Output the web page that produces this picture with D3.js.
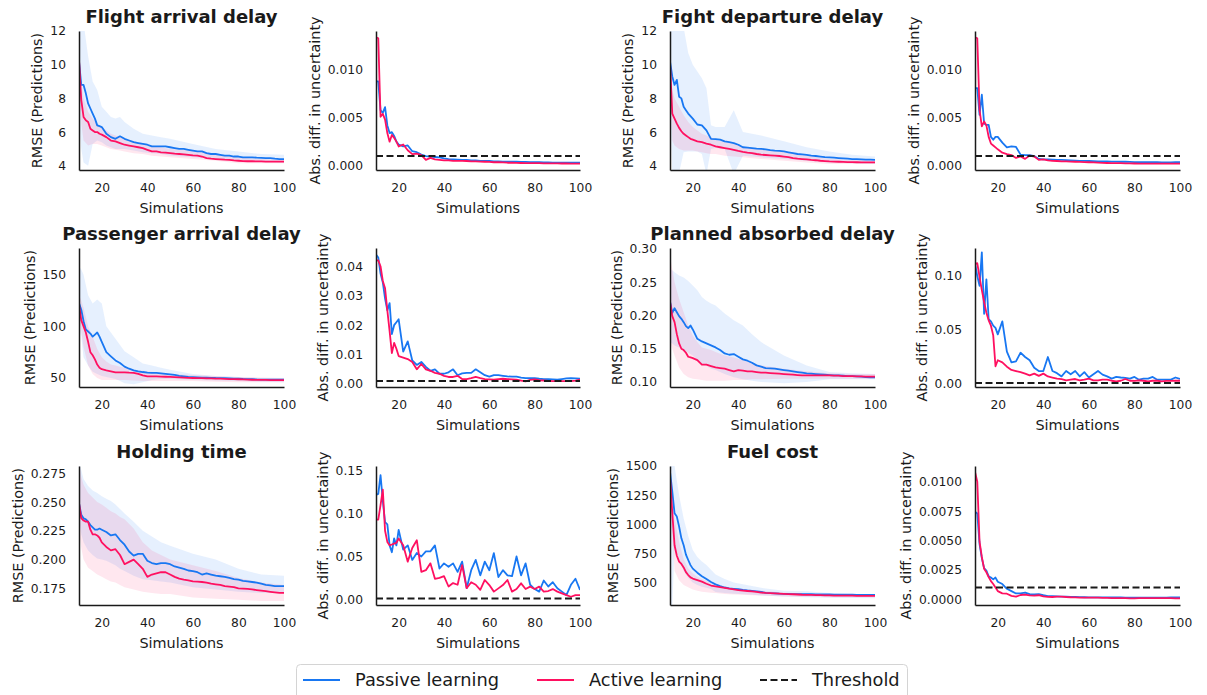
<!DOCTYPE html>
<html>
<head>
<meta charset="utf-8">
<script src="https://cdn.jsdelivr.net/npm/d3@7"></script>
<style>
  body { margin: 0; background: #fff; }
  text { font-family: "DejaVu Sans", sans-serif; fill: #1a1a1a; }
</style>
</head>
<body>
<svg id="chart" width="1207" height="695"></svg>
<script>
// ---------- data ----------
const sims = [10, 11, 12, 13, 14, 15, 16, 17, 18, 19, 20,
  22, 24, 26, 28, 30, 32, 34, 36, 38, 40, 42, 44, 46, 48, 50,
  52, 54, 56, 58, 60, 62, 64, 66, 68, 70, 72, 74, 76, 78, 80,
  82, 84, 86, 88, 90, 92, 94, 96, 98, 100];
const bandSims = [10, 11, 12, 14, 16, 18, 20, 22, 24, 26, 28, 30, 34, 38, 42, 46, 50, 60, 70, 80, 90, 100];
const xTicks = [20, 40, 60, 80, 100];
const threshold = 0.001;

// Flight arrival delay
const arrRmsePassive = [10.2, 8.8, 8.8, 8.3, 7.7, 7.4, 7.1, 6.8, 6.4, 6.35, 6.3,
  5.9, 5.7, 5.6, 5.75, 5.6, 5.5, 5.4, 5.35, 5.3, 5.25, 5.15, 5.15, 5.15, 5.15, 5.1,
  5.05, 5.0, 5.0, 4.95, 4.9, 4.85, 4.85, 4.75, 4.7, 4.7, 4.65, 4.6, 4.6, 4.55, 4.55,
  4.5, 4.5, 4.5, 4.48, 4.47, 4.45, 4.45, 4.42, 4.4, 4.4];
const arrRmseActive = [10.3, 7.9, 6.9, 6.7, 6.6, 6.2, 6.1, 6.0, 6.0, 5.9, 5.85,
  5.7, 5.5, 5.45, 5.35, 5.25, 5.2, 5.15, 5.1, 5.05, 4.95, 4.85, 4.85, 4.8, 4.78, 4.75,
  4.72, 4.7, 4.68, 4.65, 4.62, 4.6, 4.55, 4.45, 4.42, 4.4, 4.38, 4.36, 4.35, 4.32, 4.3,
  4.28, 4.27, 4.27, 4.26, 4.26, 4.25, 4.25, 4.25, 4.25, 4.25];
const arrBandPassiveHi = [12.5, 12.5, 12.5, 10.5, 9.0, 8.5, 7.5, 7.2, 6.9, 6.8, 6.9, 6.6, 6.2, 5.9, 5.8, 5.7, 5.6, 5.3, 5.0, 4.85, 4.7, 4.65];
const arrBandPassiveLo = [7.0, 5.0, 4.2, 4.0, 5.3, 5.5, 5.4, 5.2, 5.1, 5.0, 5.0, 5.0, 4.9, 4.8, 4.75, 4.7, 4.6, 4.5, 4.4, 4.3, 4.25, 4.2];
const arrBandActiveHi = [10.5, 9.0, 8.0, 7.2, 6.8, 6.5, 6.3, 6.1, 5.9, 5.8, 5.7, 5.6, 5.45, 5.35, 5.2, 5.1, 5.0, 4.9, 4.7, 4.5, 4.4, 4.35];
const arrBandActiveLo = [9.5, 6.5, 5.5, 5.2, 5.3, 5.3, 5.2, 5.1, 5.0, 4.95, 4.9, 4.85, 4.75, 4.7, 4.6, 4.55, 4.5, 4.4, 4.3, 4.15, 4.15, 4.15];
const arrDiffPassive = [0.0088, 0.0088, 0.0058, 0.0055, 0.0061, 0.0042, 0.0034, 0.0035, 0.0031, 0.0025, 0.0022,
  0.0020, 0.0021, 0.0015, 0.0014, 0.00115, 0.0010, 0.00095, 0.0009, 0.00085, 0.00075,
  0.00068, 0.00065, 0.00062, 0.0006, 0.0006, 0.00055, 0.00055, 0.0005, 0.0005, 0.00048,
  0.00045, 0.00045, 0.00042, 0.00042, 0.0004, 0.0004, 0.00038, 0.00038, 0.00036, 0.00035,
  0.00035, 0.00033, 0.00033, 0.00032, 0.0003, 0.0003, 0.0003, 0.0003, 0.0003, 0.0003];
const arrDiffActive = [0.0134, 0.0133, 0.0051, 0.0054, 0.0048, 0.0034, 0.0025, 0.0032, 0.0029, 0.0025, 0.0020,
  0.0022, 0.0016, 0.0012, 0.00125, 0.0011, 0.0006, 0.0008, 0.00065, 0.0006, 0.00055,
  0.00055, 0.0005, 0.0005, 0.0005, 0.00048, 0.00045, 0.00045, 0.00042, 0.0004, 0.00038,
  0.00035, 0.00035, 0.00033, 0.0003, 0.0003, 0.00028, 0.00027, 0.00026, 0.00025, 0.00025,
  0.00025, 0.00024, 0.00024, 0.00024, 0.00023, 0.00022, 0.00022, 0.00021, 0.0002, 0.0002];

// Flight departure delay
const depRmsePassive = [10.2, 9.3, 8.8, 9.1, 8.1, 8.0, 7.5, 7.3, 7.1, 6.95, 6.8,
  6.45, 6.4, 6.1, 5.6, 5.58, 5.55, 5.45, 5.4, 5.35, 5.25, 5.1, 5.08, 5.05, 5.02, 5.0,
  4.98, 4.93, 4.9, 4.88, 4.85, 4.8, 4.75, 4.7, 4.68, 4.65, 4.6, 4.58, 4.55, 4.52, 4.5,
  4.48, 4.46, 4.44, 4.42, 4.4, 4.39, 4.38, 4.37, 4.36, 4.35];
const depRmseActive = [10.1, 7.1, 6.8, 6.5, 6.25, 6.05, 5.9, 5.8, 5.7, 5.6, 5.55,
  5.45, 5.4, 5.32, 5.25, 5.15, 5.1, 5.05, 5.0, 4.95, 4.88, 4.82, 4.78, 4.75, 4.7, 4.66,
  4.64, 4.62, 4.6, 4.58, 4.55, 4.52, 4.46, 4.42, 4.4, 4.38, 4.35, 4.33, 4.3, 4.28, 4.26,
  4.25, 4.24, 4.23, 4.22, 4.22, 4.21, 4.2, 4.2, 4.2, 4.2];
const depBandPassiveHi = [12.5, 12.5, 12.5, 12.5, 12.2, 10.7, 10.0, 9.6, 9.2, 8.6, 6.4, 6.3, 6.3, 7.3, 6.0, 5.9, 5.8, 5.45, 5.1, 4.85, 4.65, 4.55];
const depBandPassiveLo = [8.0, 3.5, 3.5, 3.6, 4.8, 4.85, 4.85, 4.85, 4.7, 3.5, 5.0, 5.05, 5.0, 3.5, 4.6, 4.55, 4.5, 4.4, 4.3, 4.2, 4.15, 4.1];
const depBandActiveHi = [10.5, 8.5, 8.0, 7.5, 7.0, 6.6, 6.3, 6.1, 5.9, 5.8, 5.7, 5.55, 5.4, 5.3, 5.15, 5.05, 5.0, 4.8, 4.6, 4.4, 4.35, 4.3];
const depBandActiveLo = [9.5, 5.5, 5.2, 5.0, 4.9, 4.9, 4.9, 4.85, 4.8, 4.75, 4.7, 4.7, 4.6, 4.55, 4.5, 4.45, 4.4, 4.3, 4.2, 4.1, 4.1, 4.1];
const depDiffPassive = [0.0081, 0.0081, 0.0053, 0.0074, 0.0044, 0.00425, 0.00425, 0.0030, 0.0027, 0.0030, 0.0030,
  0.0024, 0.0019, 0.0020, 0.00195, 0.00115, 0.0011, 0.0011, 0.0010, 0.0007, 0.00065,
  0.00065, 0.00062, 0.0006, 0.0006, 0.00058, 0.00055, 0.00052, 0.0005, 0.0005, 0.00048,
  0.00047, 0.00045, 0.00045, 0.00043, 0.00042, 0.00042, 0.0004, 0.0004, 0.00038, 0.00037,
  0.00035, 0.00035, 0.00035, 0.00035, 0.00035, 0.00034, 0.00034, 0.00034, 0.00035, 0.00035];
const depDiffActive = [0.0134, 0.0133, 0.0058, 0.0041, 0.0046, 0.0042, 0.0030, 0.0023, 0.0021, 0.0019, 0.0017,
  0.00135, 0.0012, 0.0011, 0.0008, 0.00095, 0.0007, 0.00105, 0.00095, 0.0006, 0.00065,
  0.00055, 0.0005, 0.00048, 0.00045, 0.00044, 0.00042, 0.0004, 0.00038, 0.00037, 0.00035,
  0.00033, 0.0003, 0.00028, 0.00027, 0.00026, 0.00025, 0.00025, 0.00024, 0.00023, 0.00022,
  0.0002, 0.0002, 0.0002, 0.0002, 0.0002, 0.0002, 0.0002, 0.0002, 0.0002, 0.0002];

// Passenger arrival delay
const paxRmsePassive = [122.6, 116, 105, 97, 95, 93, 90, 92, 94, 90, 85,
  75, 71, 67, 64.5, 61, 59, 57.4, 56.5, 55.8, 55.3, 55, 55, 54.5, 54, 53.5,
  53, 52, 51.5, 51, 50.8, 50.6, 50.4, 50.3, 50.2, 50, 49.9, 49.8, 49.7, 49.5, 49.3,
  49.1, 49, 48.8, 48.6, 48.5, 48.4, 48.4, 48.4, 48.4, 48.4];
const paxRmseActive = [121, 106, 100, 94, 85, 75, 72, 68, 63, 60, 58.5,
  57.4, 56.5, 55.5, 55.5, 55.5, 55.2, 55, 54, 52.5, 51.6, 51.6, 51.6, 51.4, 51.2, 51,
  50.8, 50.6, 50.4, 50.1, 50, 49.9, 49.8, 49.7, 49.6, 49.5, 49.4, 49.2, 49, 48.9, 48.8,
  48.6, 48.4, 48.3, 48.2, 48.1, 48.1, 48, 48, 48, 48];
const paxBandPassiveHi = [158, 155, 150, 130, 122, 126, 122, 100, 94, 88, 82, 76, 70, 64, 62, 60, 58, 54, 52, 51, 50, 50];
const paxBandPassiveLo = [100, 90, 70, 62, 56, 54, 52, 51, 50, 49, 47, 45, 44, 46, 48, 49, 49, 48, 47.5, 47, 46.5, 46];
const paxBandActiveHi = [130, 125, 118, 100, 90, 78, 70, 66, 63, 62, 61, 60, 58, 57, 56, 55, 54, 53, 52, 51, 50.5, 50];
const paxBandActiveLo = [110, 95, 80, 62, 54, 50, 48, 48, 48, 48, 48, 48, 47.5, 47, 47, 47, 47, 47, 46.5, 46, 46, 46];
const paxDiffPassive = [0.044, 0.043, 0.0375, 0.0345, 0.029, 0.025, 0.0275, 0.017, 0.020, 0.021, 0.022,
  0.011, 0.0145, 0.008, 0.0065, 0.0075, 0.0058, 0.0045, 0.005, 0.0035, 0.0035,
  0.004, 0.005, 0.003, 0.0036, 0.0038, 0.0038, 0.005, 0.004, 0.003, 0.0025,
  0.003, 0.003, 0.0028, 0.0026, 0.0025, 0.0025, 0.0022, 0.002, 0.002, 0.002,
  0.0018, 0.0017, 0.0017, 0.0016, 0.0015, 0.0017, 0.0019, 0.002, 0.0019, 0.0018];
const paxDiffActive = [0.042, 0.042, 0.040, 0.035, 0.0325, 0.025, 0.018, 0.0105, 0.014, 0.012, 0.0095,
  0.009, 0.0085, 0.0075, 0.005, 0.0068, 0.005, 0.0045, 0.0038, 0.0035, 0.0028,
  0.0024, 0.0024, 0.0028, 0.0017, 0.0017, 0.002, 0.0024, 0.002, 0.0017, 0.0016,
  0.0015, 0.0017, 0.0018, 0.0017, 0.0016, 0.0015, 0.0012, 0.0009, 0.0014, 0.0016,
  0.0013, 0.0012, 0.0011, 0.001, 0.001, 0.001, 0.001, 0.001, 0.0012, 0.0015];

// Planned absorbed delay
const absRmsePassive = [0.221, 0.204, 0.211, 0.205, 0.199, 0.195, 0.19, 0.184, 0.181, 0.185, 0.179,
  0.165, 0.161, 0.158, 0.155, 0.152, 0.148, 0.143, 0.141, 0.142, 0.138,
  0.134, 0.132, 0.129, 0.125, 0.123, 0.121, 0.1205, 0.12, 0.119, 0.118,
  0.117, 0.116, 0.115, 0.114, 0.113, 0.1125, 0.112, 0.1115, 0.111, 0.1105,
  0.110, 0.110, 0.1095, 0.109, 0.109, 0.1085, 0.108, 0.1075, 0.107, 0.107];
const absRmseActive = [0.221, 0.199, 0.19, 0.172, 0.158, 0.15, 0.148, 0.144, 0.138, 0.137, 0.136,
  0.133, 0.126, 0.126, 0.124, 0.122, 0.121, 0.12, 0.118, 0.116, 0.118,
  0.117, 0.116, 0.116, 0.115, 0.114, 0.114, 0.1135, 0.113, 0.1125, 0.112,
  0.1115, 0.111, 0.1105, 0.110, 0.110, 0.110, 0.110, 0.110, 0.110, 0.110,
  0.1095, 0.1095, 0.109, 0.109, 0.109, 0.1085, 0.1085, 0.108, 0.108, 0.108];
const absBandPassiveHi = [0.27, 0.268, 0.265, 0.26, 0.257, 0.252, 0.245, 0.238, 0.228, 0.222, 0.218, 0.215, 0.203, 0.193, 0.185, 0.172, 0.16, 0.14, 0.125, 0.115, 0.113, 0.112];
const absBandPassiveLo = [0.16, 0.158, 0.155, 0.152, 0.148, 0.144, 0.14, 0.134, 0.127, 0.124, 0.12, 0.118, 0.112, 0.107, 0.104, 0.102, 0.1, 0.098, 0.1, 0.104, 0.104, 0.104];
const absBandActiveHi = [0.29, 0.27, 0.25, 0.225, 0.205, 0.185, 0.17, 0.16, 0.152, 0.15, 0.148, 0.145, 0.14, 0.137, 0.133, 0.128, 0.125, 0.12, 0.116, 0.113, 0.112, 0.112];
const absBandActiveLo = [0.16, 0.15, 0.14, 0.122, 0.112, 0.107, 0.105, 0.104, 0.103, 0.102, 0.102, 0.102, 0.102, 0.103, 0.103, 0.104, 0.104, 0.105, 0.105, 0.105, 0.105, 0.105];
const absDiffPassive = [0.112, 0.100, 0.091, 0.122, 0.065, 0.097, 0.060, 0.058, 0.054, 0.052, 0.046,
  0.058, 0.030, 0.020, 0.021, 0.029, 0.025, 0.022, 0.015, 0.012, 0.012,
  0.025, 0.012, 0.010, 0.007, 0.012, 0.009, 0.012, 0.007, 0.011, 0.006,
  0.009, 0.012, 0.0087, 0.007, 0.005, 0.0065, 0.006, 0.0056, 0.005, 0.0065,
  0.004, 0.005, 0.005, 0.0065, 0.004, 0.004, 0.004, 0.004, 0.006, 0.0046];
const absDiffActive = [0.111, 0.112, 0.099, 0.087, 0.076, 0.066, 0.059, 0.054, 0.045, 0.0164, 0.022,
  0.020, 0.016, 0.013, 0.012, 0.011, 0.0096, 0.008, 0.0096, 0.0075, 0.0096,
  0.007, 0.006, 0.005, 0.0045, 0.0034, 0.004, 0.0046, 0.0034, 0.004, 0.005,
  0.0034, 0.0034, 0.004, 0.004, 0.003, 0.0025, 0.003, 0.0046, 0.003, 0.0028,
  0.0034, 0.003, 0.0025, 0.003, 0.003, 0.0025, 0.0028, 0.0028, 0.003, 0.003];

// Holding time
const holdRmsePassive = [0.249, 0.239, 0.236, 0.235, 0.233, 0.230, 0.228, 0.226, 0.226, 0.227, 0.226,
  0.224, 0.221, 0.222, 0.217, 0.213, 0.207, 0.2035, 0.205, 0.205, 0.199,
  0.197, 0.196, 0.197, 0.197, 0.196, 0.194, 0.193, 0.192, 0.1905, 0.19,
  0.189, 0.187, 0.188, 0.187, 0.186, 0.1855, 0.185, 0.184, 0.183, 0.1825,
  0.1815, 0.181, 0.1805, 0.18, 0.179, 0.178, 0.1775, 0.177, 0.177, 0.177];
const holdRmseActive = [0.249, 0.236, 0.234, 0.233, 0.233, 0.226, 0.222, 0.222, 0.221, 0.219, 0.215,
  0.211, 0.208, 0.209, 0.204, 0.196, 0.198, 0.2, 0.196, 0.192, 0.185,
  0.187, 0.188, 0.189, 0.189, 0.187, 0.185, 0.1834, 0.1825, 0.182, 0.181,
  0.1808, 0.1805, 0.180, 0.179, 0.1785, 0.178, 0.177, 0.1765, 0.176, 0.175,
  0.1748, 0.1745, 0.174, 0.1735, 0.173, 0.1725, 0.172, 0.1715, 0.171, 0.171];
const holdBandPassiveHi = [0.285, 0.278, 0.27, 0.264, 0.26, 0.258, 0.255, 0.253, 0.251, 0.248, 0.244, 0.24, 0.233, 0.225, 0.22, 0.215, 0.212, 0.205, 0.2, 0.192, 0.187, 0.186];
const holdBandPassiveLo = [0.235, 0.222, 0.215, 0.208, 0.204, 0.201, 0.2, 0.199, 0.197, 0.195, 0.192, 0.19, 0.186, 0.183, 0.182, 0.181, 0.18, 0.176, 0.174, 0.172, 0.171, 0.171];
const holdBandActiveHi = [0.285, 0.272, 0.265, 0.258, 0.254, 0.25, 0.248, 0.245, 0.242, 0.24, 0.237, 0.235, 0.227, 0.215, 0.208, 0.204, 0.2, 0.195, 0.19, 0.184, 0.18, 0.178];
const holdBandActiveLo = [0.225, 0.21, 0.2, 0.193, 0.19, 0.187, 0.185, 0.183, 0.181, 0.18, 0.178, 0.176, 0.174, 0.172, 0.171, 0.17, 0.17, 0.167, 0.166, 0.165, 0.164, 0.164];
const holdDiffPassive = [0.122, 0.123, 0.145, 0.115, 0.09, 0.0875, 0.063, 0.055, 0.071, 0.063, 0.081,
  0.058, 0.063, 0.046, 0.054, 0.05, 0.056, 0.056, 0.063, 0.036, 0.042,
  0.038, 0.042, 0.032, 0.044, 0.013, 0.034, 0.046, 0.028, 0.044, 0.034,
  0.054, 0.026, 0.034, 0.028, 0.027, 0.05, 0.028, 0.042, 0.017, 0.012,
  0.009, 0.022, 0.015, 0.02, 0.013, 0.009, 0.005, 0.017, 0.024, 0.011];
const holdDiffActive = [0.093, 0.093, 0.110, 0.128, 0.08, 0.067, 0.063, 0.064, 0.065, 0.066, 0.071,
  0.063, 0.044, 0.06, 0.069, 0.032, 0.034, 0.042, 0.024, 0.025, 0.027,
  0.015, 0.019, 0.017, 0.04, 0.013, 0.02, 0.017, 0.011, 0.0226, 0.0167,
  0.009, 0.0128, 0.0167, 0.0226, 0.009, 0.012, 0.0187, 0.012, 0.0148, 0.012,
  0.0148, 0.009, 0.0097, 0.012, 0.009, 0.007, 0.005, 0.003, 0.005, 0.005];

// Fuel cost
const fuelRmsePassive = [1451, 1280, 1094, 1066, 980, 880, 820, 740, 694, 650, 620,
  585, 555, 530, 505, 485, 470, 458, 451, 447, 443, 437, 433, 430, 425, 420,
  412, 409, 407, 405, 404, 403, 402, 402, 401, 400, 400, 399, 399, 398, 398,
  397, 397, 396, 396, 396, 395, 395, 395, 395, 395];
const fuelRmseActive = [1409, 1100, 820, 730, 680, 660, 630, 590, 565, 545, 535,
  522, 508, 490, 475, 468, 462, 455, 448, 442, 436, 432, 428, 424, 420, 415,
  412, 410, 408, 406, 404, 402, 400, 398, 396, 395, 394, 393, 392, 391, 390,
  389, 389, 388, 388, 388, 387, 387, 386, 386, 386];
const fuelBandPassiveHi = [1520, 1520, 1500, 1250, 1050, 900, 780, 720, 680, 650, 610, 570, 530, 500, 485, 470, 455, 430, 425, 410, 400, 395];
const fuelBandPassiveLo = [300, 300, 800, 700, 600, 540, 500, 480, 465, 455, 445, 420, 410, 405, 400, 395, 390, 380, 375, 370, 368, 365];
const fuelBandActiveHi = [1500, 1250, 1050, 850, 700, 620, 580, 550, 530, 515, 495, 480, 465, 452, 445, 437, 430, 415, 405, 400, 397, 395];
const fuelBandActiveLo = [1200, 900, 600, 520, 480, 460, 440, 430, 422, 418, 414, 410, 402, 398, 395, 392, 390, 380, 378, 375, 375, 375];
const fuelDiffPassive = [0.00745, 0.0073, 0.0047, 0.0035, 0.00265, 0.00245, 0.00195, 0.00185, 0.0017, 0.00185, 0.0015,
  0.0013, 0.0009, 0.0007, 0.0005, 0.00051, 0.00058, 0.00045, 0.00042, 0.00045, 0.00035,
  0.00028, 0.00027, 0.00026, 0.00024, 0.00023, 0.00021, 0.0002, 0.00019, 0.00018, 0.00017,
  0.00017, 0.00017, 0.00017, 0.00017, 0.00017, 0.00017, 0.00016, 0.00015, 0.00015, 0.00014,
  0.00014, 0.00014, 0.00014, 0.00014, 0.00014, 0.00014, 0.00015, 0.00016, 0.00017, 0.00017];
const fuelDiffActive = [0.01085, 0.0100, 0.0049, 0.0036, 0.0026, 0.0023, 0.0019, 0.00155, 0.0013, 0.0010, 0.0007,
  0.00051, 0.00048, 0.0003, 0.00023, 0.00037, 0.0004, 0.00033, 0.00032, 0.00035, 0.00026,
  0.00021, 0.0002, 0.00024, 0.00024, 0.0002, 0.00018, 0.00017, 0.00015, 0.00014, 0.00014,
  0.00014, 0.00014, 0.00013, 0.00012, 0.00011, 0.00011, 0.0001, 0.0001, 0.00009, 0.00009,
  0.0001, 0.0001, 0.00011, 0.00011, 0.00011, 0.00011, 0.0001, 0.0001, 0.00009, 0.00009];

const legendLabels = ["Passive learning", "Active learning", "Threshold"];

// ---------- layout ----------
const COLS = [[79, 284], [376, 580], [670, 875], [975, 1180]];
const ROWS = [[31, 170], [248, 387], [466, 605]];
const PASSIVE = "#1877F2";
const ACTIVE = "#FF1060";
const INK = "#1a1a1a";

const rmseLabel = "RMSE (Predictions)";
const diffLabel = "Abs. diff. in uncertainty";

const panels = [
  { col: 0, row: 0, title: "Flight arrival delay", passive: arrRmsePassive, active: arrRmseActive,
    bands: [arrBandPassiveLo, arrBandPassiveHi, arrBandActiveLo, arrBandActiveHi],
    yDomain: [3.75, 12], yTicks: [4, 6, 8, 10, 12], fmt: "d" },
  { col: 1, row: 0, passive: arrDiffPassive, active: arrDiffActive,
    yDomain: [-0.00046, 0.01406], yTicks: [0, 0.005, 0.01], fmt: ".3f" },
  { col: 2, row: 0, title: "Fight departure delay", passive: depRmsePassive, active: depRmseActive,
    bands: [depBandPassiveLo, depBandPassiveHi, depBandActiveLo, depBandActiveHi],
    yDomain: [3.75, 12], yTicks: [4, 6, 8, 10, 12], fmt: "d" },
  { col: 3, row: 0, passive: depDiffPassive, active: depDiffActive,
    yDomain: [-0.00046, 0.01406], yTicks: [0, 0.005, 0.01], fmt: ".3f" },
  { col: 0, row: 1, title: "Passenger arrival delay", passive: paxRmsePassive, active: paxRmseActive,
    bands: [paxBandPassiveLo, paxBandPassiveHi, paxBandActiveLo, paxBandActiveHi],
    yDomain: [41.3, 175.8], yTicks: [50, 100, 150], fmt: "d" },
  { col: 1, row: 1, passive: paxDiffPassive, active: paxDiffActive,
    yDomain: [-0.001, 0.0462], yTicks: [0, 0.01, 0.02, 0.03, 0.04], fmt: ".2f" },
  { col: 2, row: 1, title: "Planned absorbed delay", passive: absRmsePassive, active: absRmseActive,
    bands: [absBandPassiveLo, absBandPassiveHi, absBandActiveLo, absBandActiveHi],
    yDomain: [0.0925, 0.3015], yTicks: [0.10, 0.15, 0.20, 0.25, 0.30], fmt: ".2f" },
  { col: 3, row: 1, passive: absDiffPassive, active: absDiffActive,
    yDomain: [-0.0028, 0.126], yTicks: [0, 0.05, 0.10], fmt: ".2f" },
  { col: 0, row: 2, title: "Holding time", passive: holdRmsePassive, active: holdRmseActive,
    bands: [holdBandPassiveLo, holdBandPassiveHi, holdBandActiveLo, holdBandActiveHi],
    yDomain: [0.1605, 0.2814], yTicks: [0.175, 0.2, 0.225, 0.25, 0.275], fmt: ".3f" },
  { col: 1, row: 2, passive: holdDiffPassive, active: holdDiffActive,
    yDomain: [-0.0066, 0.1556], yTicks: [0, 0.05, 0.10, 0.15], fmt: ".2f" },
  { col: 2, row: 2, title: "Fuel cost", passive: fuelRmsePassive, active: fuelRmseActive,
    bands: [fuelBandPassiveLo, fuelBandPassiveHi, fuelBandActiveLo, fuelBandActiveHi],
    yDomain: [308, 1500], yTicks: [500, 750, 1000, 1250, 1500], fmt: "d" },
  { col: 3, row: 2, passive: fuelDiffPassive, active: fuelDiffActive,
    yDomain: [-0.00048, 0.01133], yTicks: [0, 0.0025, 0.005, 0.0075, 0.01], fmt: ".4f" }
];

// ---------- drawing ----------
const svg = d3.select("#chart");
svg.append("rect").attr("width", 1207).attr("height", 695).attr("fill", "#fff");

panels.forEach((p, k) => {
  const [x0, x1] = COLS[p.col];
  const [y0, y1] = ROWS[p.row];
  const isDiff = !p.bands;

  const x = d3.scaleLinear().domain([10, 100]).range([x0, x1]);
  const y = d3.scaleLinear().domain(p.yDomain).range([y1, y0]);

  const clipId = "clip" + k;
  svg.append("clipPath").attr("id", clipId)
    .append("rect").attr("x", x0).attr("y", y0).attr("width", x1 - x0).attr("height", y1 - y0);

  const plot = svg.append("g").attr("clip-path", `url(#${clipId})`);

  if (p.bands) {
    const [pLo, pHi, aLo, aHi] = p.bands;
    const area = lo => d3.area()
      .x((d, i) => x(bandSims[i]))
      .y0((d, i) => y(lo[i]))
      .y1(d => y(d));
    plot.append("path").attr("d", area(pLo)(pHi))
      .attr("fill", PASSIVE).attr("fill-opacity", 0.11);
    plot.append("path").attr("d", area(aLo)(aHi))
      .attr("fill", ACTIVE).attr("fill-opacity", 0.1);
  }

  const line = d3.line().x((d, i) => x(sims[i])).y(d => y(d));
  plot.append("path").attr("d", line(p.passive))
    .attr("fill", "none").attr("stroke", PASSIVE).attr("stroke-width", 1.8).attr("stroke-linejoin", "round");
  plot.append("path").attr("d", line(p.active))
    .attr("fill", "none").attr("stroke", ACTIVE).attr("stroke-width", 1.8).attr("stroke-linejoin", "round");

  if (isDiff) {
    plot.append("line")
      .attr("x1", x(10)).attr("x2", x(100))
      .attr("y1", y(threshold)).attr("y2", y(threshold))
      .attr("stroke", INK).attr("stroke-width", 2).attr("stroke-dasharray", "7,3.5");
  }

  // axes
  const xAxis = svg.append("g").attr("transform", `translate(0,${y1})`)
    .call(d3.axisBottom(x).tickValues(xTicks).tickSize(0).tickPadding(13));
  const yAxis = svg.append("g").attr("transform", `translate(${x0},0)`)
    .call(d3.axisLeft(y).tickValues(p.yTicks).tickSize(0).tickPadding(13).tickFormat(d3.format(p.fmt)));

  [xAxis, yAxis].forEach(a => {
    a.select(".domain").attr("stroke", INK).attr("stroke-width", 1.5);
    a.selectAll("text").attr("font-size", 12.3).attr("fill", INK)
      .attr("font-family", "DejaVu Sans");
  });

  svg.append("text")
    .attr("x", (x0 + x1) / 2).attr("y", y1 + 38).attr("dy", "0.35em")
    .attr("text-anchor", "middle").attr("font-size", 14.4)
    .text("Simulations");

  const tb = yAxis.node().getBBox();
  const lx = x0 + tb.x - 13;
  const ly = (y0 + y1) / 2;
  svg.append("text")
    .attr("transform", `translate(${lx},${ly}) rotate(-90)`)
    .attr("dy", "0.35em")
    .attr("text-anchor", "middle").attr("font-size", 14.4)
    .text(isDiff ? diffLabel : rmseLabel);

  if (p.title) {
    svg.append("text")
      .attr("x", (x0 + x1) / 2).attr("y", y0 - 8)
      .attr("text-anchor", "middle").attr("font-size", 18).attr("font-weight", "bold")
      .attr("fill", "#000")
      .text(p.title);
  }
});

// legend
const legend = svg.append("g");
legend.append("rect")
  .attr("x", 296.5).attr("y", 664.5).attr("width", 611).attr("height", 36).attr("rx", 4)
  .attr("fill", "#fff").attr("stroke", "#d4d4d4").attr("stroke-width", 1);

const legendItems = [
  { label: legendLabels[0], color: PASSIVE, dash: null, x: 303 },
  { label: legendLabels[1], color: ACTIVE, dash: null, x: 537 },
  { label: legendLabels[2], color: INK, dash: "7,3.5", x: 760 }
];
legendItems.forEach(it => {
  legend.append("line")
    .attr("x1", it.x).attr("x2", it.x + 37).attr("y1", 680).attr("y2", 680)
    .attr("stroke", it.color).attr("stroke-width", it.dash ? 2 : 1.8)
    .attr("stroke-dasharray", it.dash);
  legend.append("text")
    .attr("x", it.x + 52).attr("y", 680).attr("dy", "0.35em")
    .attr("font-size", 17.8)
    .text(it.label);
});
</script>
</body>
</html>
